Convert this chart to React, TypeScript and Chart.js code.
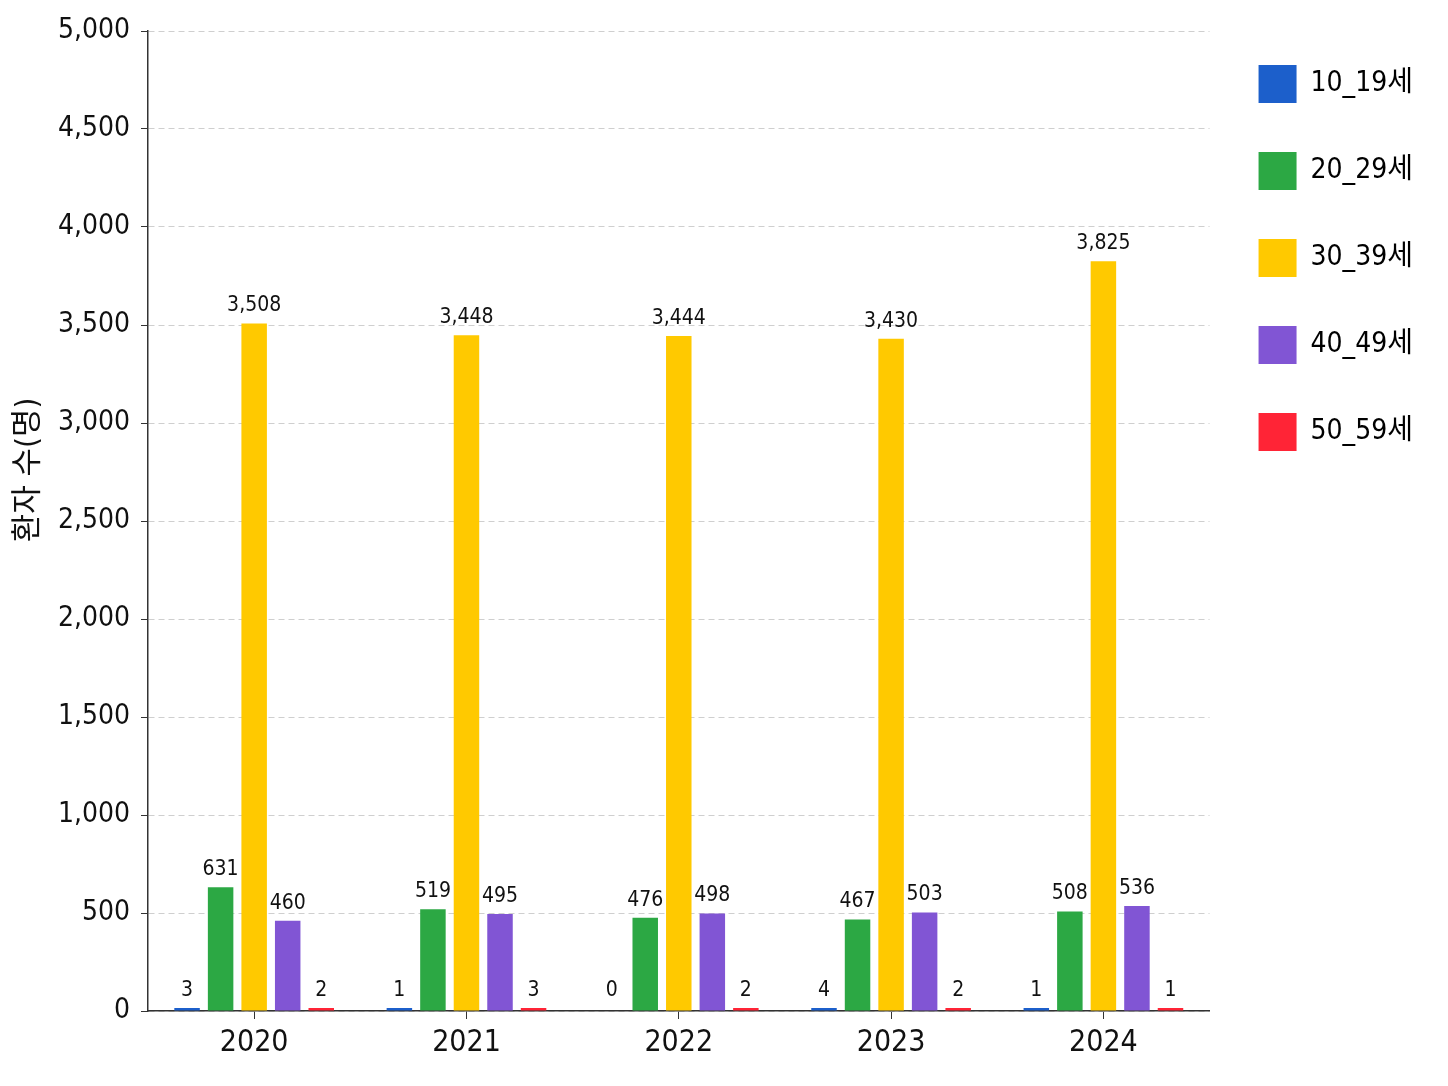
import { useEffect, useRef } from 'react';
import { Chart, registerables } from 'chart.js';

Chart.register(...registerables);

const years = ['2020', '2021', '2022', '2023', '2024'];
const ageGroups = ['10_19세', '20_29세', '30_39세', '40_49세', '50_59세'];
const teens = [3, 1, 0, 4, 1];
const twenties = [631, 519, 476, 467, 508];
const thirties = [3508, 3448, 3444, 3430, 3825];
const forties = [460, 495, 498, 503, 536];
const fifties = [2, 3, 2, 2, 1];
const colors = ['#1c5fcb', '#2ca844', '#ffc900', '#8155d4', '#ff2436'];
const yTitle = '환자 수(명)';

const FONT = "'DejaVu Sans Condensed', 'Noto Sans CJK KR', sans-serif";

// values above the bars + rotated y title
const valueLabels = {
    id: 'valueLabels',
    afterDatasetsDraw(chart: Chart) {
        const ctx = chart.ctx;
        ctx.save();
        ctx.font = `21px ${FONT}`;
        ctx.fillStyle = '#111';
        ctx.textAlign = 'center';
        ctx.textBaseline = 'bottom';
        chart.data.datasets.forEach((ds, i) => {
            const meta = chart.getDatasetMeta(i);
            meta.data.forEach((bar: any, j) => {
                const v = ds.data[j] as number;
                ctx.fillText(v.toLocaleString('en-US'), bar.x, bar.y - 7);
            });
        });
        ctx.translate(29, 470);
        ctx.rotate(-Math.PI / 2);
        ctx.font = `31px ${FONT}`;
        ctx.textBaseline = 'middle';
        ctx.fillText(yTitle, 0, 0);
        ctx.restore();
    },
};

export default function App() {
    const canvasRef = useRef<HTMLCanvasElement | null>(null);

    useEffect(() => {
        if (!canvasRef.current) return;
        const series = [teens, twenties, thirties, forties, fifties];
        const chart = new Chart(canvasRef.current, {
            type: 'bar',
            data: {
                labels: years,
                datasets: series.map((data, i) => ({
                    label: ageGroups[i],
                    data,
                    backgroundColor: (c: any) => (c.raw === 0 ? 'rgba(0,0,0,0)' : colors[i]),
                    borderWidth: 0,
                    minBarLength: 3,
                    categoryPercentage: 0.79,
                    barPercentage: 0.76,
                })),
            },
            options: {
                animation: false,
                responsive: false,
                layout: { padding: { top: 16, right: 25, bottom: 0, left: 0 } },
                plugins: {
                    tooltip: { enabled: false },
                    legend: {
                        position: 'right',
                        align: 'start',
                        labels: {
                            boxWidth: 38,
                            boxHeight: 38,
                            padding: 49,
                            color: '#111',
                            font: { size: 28, family: FONT },
                            generateLabels: (ch: Chart) =>
                                ch.data.datasets.map((ds, i) => ({
                                    text: ds.label as string,
                                    fillStyle: colors[i],
                                    strokeStyle: colors[i],
                                    lineWidth: 0,
                                    datasetIndex: i,
                                    hidden: false,
                                })),
                        },
                    },
                },
                scales: {
                    x: {
                        afterFit: (s: any) => {
                            s.height = 75;
                        },
                        grid: {
                            display: true,
                            drawOnChartArea: false,
                            offset: false,
                            tickLength: 8,
                            tickColor: '#333',
                        },
                        border: { color: '#333', width: 1.5 },
                        ticks: { color: '#111', font: { size: 30, family: FONT }, padding: 6 },
                    },
                    y: {
                        min: 0,
                        max: 5000,
                        afterFit: (s: any) => {
                            s.width = 148;
                            s.paddingTop = 31;
                        },
                        ticks: {
                            stepSize: 500,
                            color: '#111',
                            font: { size: 28, family: FONT },
                            padding: 11,
                            callback: (v: any) => Number(v).toLocaleString('en-US'),
                        },
                        grid: {
                            color: '#cfcfcf',
                            tickColor: '#333',
                            tickLength: 7,
                            tickBorderDash: [],
                        },
                        border: { color: '#333', width: 1.5, dash: [6, 4] },
                    },
                },
            },
            plugins: [valueLabels],
        });
        return () => chart.destroy();
    }, []);

    return (
        <div style={{ position: 'fixed', left: 0, top: 0, width: 1448, height: 1086, background: '#fff' }}>
            <canvas ref={canvasRef} width={1448} height={1086} />
        </div>
    );
}
